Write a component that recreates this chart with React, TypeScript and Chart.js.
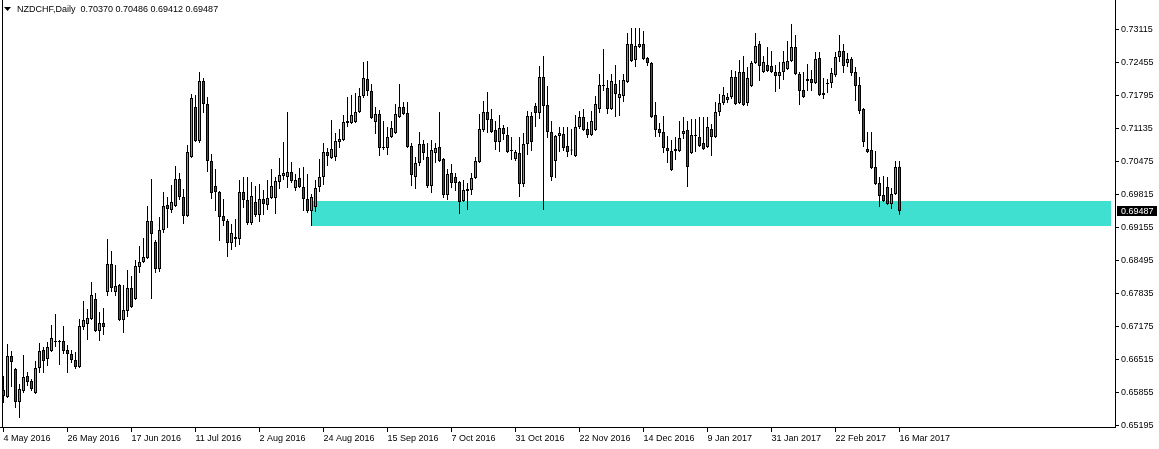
import React, { useEffect, useRef } from 'react';
import { Chart, registerables } from 'chart.js';

Chart.register(...registerables);

const symbolTitle = 'NZDCHF,Daily';

const dateTickLabels = [
  '4 May 2016', '26 May 2016', '17 Jun 2016', '11 Jul 2016', '2 Aug 2016',
  '24 Aug 2016', '15 Sep 2016', '7 Oct 2016', '31 Oct 2016', '22 Nov 2016',
  '14 Dec 2016', '9 Jan 2017', '31 Jan 2017', '22 Feb 2017', '16 Mar 2017',
];
const barsPerDateTick = 16;

const priceTickValues = [
  0.65195, 0.65855, 0.66515, 0.67175, 0.67835, 0.68495, 0.69155,
  0.69815, 0.70475, 0.71135, 0.71795, 0.72455, 0.73115,
];

const opens = [
  0.65905, 0.65765, 0.66585, 0.66325, 0.65665, 0.65885, 0.66185, 0.66085, 0.65845, 0.66345,
  0.66705, 0.66525, 0.66685, 0.66865, 0.66885, 0.66885, 0.66705, 0.66625, 0.66505, 0.66365,
  0.67165, 0.67225, 0.67325, 0.67725, 0.67085, 0.67245, 0.67865, 0.68425, 0.67865, 0.68005,
  0.67305, 0.67485, 0.67945, 0.67725, 0.68365, 0.68465, 0.68545, 0.69285, 0.68865, 0.68325,
  0.69105, 0.69605, 0.69505, 0.69585, 0.70125, 0.69765, 0.69385, 0.70565, 0.71565, 0.70885,
  0.72085, 0.71625, 0.70485, 0.69985, 0.69865, 0.69385, 0.69285, 0.68845, 0.68965, 0.68925,
  0.69865, 0.69705, 0.69245, 0.69665, 0.69405, 0.69725, 0.69605, 0.69745, 0.69745, 0.70065,
  0.70185, 0.70165, 0.70265, 0.69945, 0.70145, 0.69965, 0.69725, 0.69485, 0.69565, 0.69965,
  0.70165, 0.70665, 0.70545, 0.70565, 0.70865, 0.70905, 0.71245, 0.71245, 0.71265, 0.71465,
  0.71785, 0.72125, 0.71885, 0.71265, 0.71425, 0.70765, 0.70745, 0.70965, 0.71045, 0.71365,
  0.71565, 0.71445, 0.70785, 0.70165, 0.70445, 0.70825, 0.70565, 0.69985, 0.70645, 0.70765,
  0.70525, 0.69805, 0.70245, 0.70165, 0.70065, 0.69685, 0.69885, 0.69905, 0.70145, 0.70465,
  0.71105, 0.71465, 0.71325, 0.71105, 0.70865, 0.71145, 0.71005, 0.70705, 0.70525, 0.70645,
  0.70025, 0.70825, 0.71385, 0.71585, 0.71445, 0.72165, 0.71605, 0.71065, 0.70485, 0.70985,
  0.71025, 0.70785, 0.70705, 0.70585, 0.71165, 0.71365, 0.71125, 0.71005, 0.71105, 0.71525,
  0.71985, 0.71945, 0.71525, 0.72025, 0.71745, 0.71785, 0.72065, 0.72825, 0.72505, 0.72765,
  0.72825, 0.72545, 0.72445, 0.71405, 0.71125, 0.71065, 0.70745, 0.70685, 0.70685, 0.70685,
  0.71025, 0.71105, 0.70645, 0.70985, 0.70965, 0.70845, 0.70765, 0.71125, 0.70965, 0.71465,
  0.71645, 0.71705, 0.71765, 0.72165, 0.71645, 0.72265, 0.71645, 0.71985, 0.72445, 0.72825,
  0.72265, 0.72405, 0.72385, 0.72265, 0.72185, 0.72265, 0.72325, 0.72485, 0.72765, 0.72225,
  0.71905, 0.72085, 0.72125, 0.72045, 0.72545, 0.71845, 0.72025, 0.72045, 0.72205, 0.72565,
  0.72685, 0.72445, 0.72525, 0.72265, 0.72005, 0.71525, 0.70725, 0.70705, 0.70365, 0.70045,
  0.69805, 0.69965, 0.69625, 0.69825, 0.70370,
];

const highs = [
  0.66185, 0.66825, 0.66685, 0.66345, 0.66025, 0.66605, 0.66265, 0.66125, 0.66485, 0.66845,
  0.66765, 0.66865, 0.67205, 0.67425, 0.66905, 0.67185, 0.66805, 0.66705, 0.66665, 0.67325,
  0.67685, 0.67525, 0.68065, 0.67845, 0.67465, 0.67545, 0.68925, 0.68685, 0.68405, 0.68025,
  0.68005, 0.68305, 0.68185, 0.68505, 0.68785, 0.68945, 0.69585, 0.70125, 0.68905, 0.69365,
  0.69865, 0.69765, 0.70005, 0.70385, 0.70245, 0.69925, 0.70805, 0.71825, 0.71805, 0.72265,
  0.72145, 0.71765, 0.70625, 0.70325, 0.69885, 0.69725, 0.69325, 0.69225, 0.69325, 0.70105,
  0.70165, 0.70165, 0.70065, 0.69985, 0.70025, 0.69905, 0.70105, 0.70325, 0.70165, 0.70545,
  0.70865, 0.71465, 0.70465, 0.70225, 0.70345, 0.70365, 0.70225, 0.69825, 0.70105, 0.70525,
  0.70845, 0.70745, 0.71305, 0.71045, 0.71125, 0.71405, 0.71765, 0.71805, 0.71845, 0.71945,
  0.72465, 0.72485, 0.72025, 0.71565, 0.71505, 0.71285, 0.71165, 0.71285, 0.71625, 0.72025,
  0.71665, 0.71665, 0.70845, 0.70565, 0.71065, 0.70905, 0.70845, 0.70905, 0.70845, 0.71465,
  0.70545, 0.70325, 0.70425, 0.70245, 0.70085, 0.70105, 0.70045, 0.70245, 0.70565, 0.71425,
  0.71685, 0.71865, 0.71525, 0.71285, 0.71405, 0.71205, 0.71165, 0.70965, 0.70705, 0.70965,
  0.71045, 0.71485, 0.71465, 0.71645, 0.72385, 0.72585, 0.71985, 0.71285, 0.71005, 0.71165,
  0.71165, 0.71165, 0.71125, 0.71405, 0.71485, 0.71525, 0.71265, 0.71485, 0.71785, 0.72225,
  0.72725, 0.72105, 0.72225, 0.72405, 0.72105, 0.72225, 0.73045, 0.73145, 0.73145, 0.73145,
  0.73085, 0.72565, 0.72465, 0.71665, 0.71245, 0.71385, 0.70985, 0.70905, 0.70965, 0.71285,
  0.71365, 0.71285, 0.71325, 0.71325, 0.71365, 0.71365, 0.71365, 0.71225, 0.71665, 0.71825,
  0.71965, 0.71845, 0.72305, 0.72285, 0.72505, 0.72585, 0.72365, 0.72485, 0.73045, 0.72885,
  0.72585, 0.72765, 0.72685, 0.72405, 0.72465, 0.72685, 0.72885, 0.73225, 0.73005, 0.72265,
  0.72265, 0.72425, 0.72305, 0.72665, 0.72665, 0.72145, 0.72125, 0.72345, 0.72665, 0.73005,
  0.72825, 0.72645, 0.72565, 0.72365, 0.72165, 0.71545, 0.71065, 0.71065, 0.70685, 0.70165,
  0.70185, 0.70165, 0.69945, 0.70485, 0.70486,
];

const lows = [
  0.65645, 0.65745, 0.65965, 0.65545, 0.65345, 0.65845, 0.65985, 0.65885, 0.65825, 0.66245,
  0.66245, 0.66385, 0.66665, 0.66765, 0.66405, 0.66625, 0.66245, 0.66445, 0.66325, 0.66345,
  0.67105, 0.66905, 0.67305, 0.67065, 0.66885, 0.67005, 0.67785, 0.67865, 0.67785, 0.67285,
  0.67045, 0.67365, 0.67545, 0.67705, 0.68245, 0.68445, 0.68525, 0.67725, 0.68245, 0.68265,
  0.69045, 0.69145, 0.69445, 0.69565, 0.69705, 0.69225, 0.69365, 0.70545, 0.70865, 0.70845,
  0.71445, 0.70265, 0.69725, 0.69485, 0.68885, 0.69185, 0.68565, 0.68705, 0.68765, 0.68805,
  0.69545, 0.69205, 0.69205, 0.69365, 0.69265, 0.69405, 0.69505, 0.69725, 0.69425, 0.69925,
  0.70105, 0.69945, 0.70045, 0.69885, 0.69945, 0.69485, 0.69445, 0.69185, 0.69465, 0.69865,
  0.70005, 0.70385, 0.70525, 0.70485, 0.70745, 0.70885, 0.71165, 0.71225, 0.71245, 0.71445,
  0.71745, 0.71785, 0.71325, 0.71025, 0.70585, 0.70705, 0.70605, 0.70945, 0.71025, 0.71345,
  0.71405, 0.70745, 0.69985, 0.69925, 0.70385, 0.70505, 0.69945, 0.69845, 0.70445, 0.70465,
  0.69745, 0.69705, 0.69945, 0.69885, 0.69425, 0.69665, 0.69505, 0.69805, 0.70125, 0.70445,
  0.71065, 0.71045, 0.71045, 0.70705, 0.70665, 0.70905, 0.70645, 0.70505, 0.70485, 0.69765,
  0.69965, 0.70605, 0.70685, 0.71165, 0.71325, 0.69505, 0.70945, 0.70085, 0.70145, 0.70665,
  0.70685, 0.70565, 0.70605, 0.70565, 0.71125, 0.71085, 0.70945, 0.70985, 0.71085, 0.71445,
  0.71885, 0.71425, 0.71505, 0.71365, 0.71385, 0.71665, 0.72045, 0.72465, 0.72365, 0.72745,
  0.72505, 0.72385, 0.71345, 0.70965, 0.70965, 0.70645, 0.70445, 0.70285, 0.70505, 0.70665,
  0.70925, 0.69965, 0.70625, 0.70665, 0.70765, 0.70705, 0.70745, 0.70585, 0.70945, 0.71385,
  0.71605, 0.71645, 0.71725, 0.71605, 0.71625, 0.71585, 0.71585, 0.71965, 0.72425, 0.72085,
  0.72245, 0.72265, 0.72245, 0.71865, 0.71925, 0.72105, 0.72305, 0.72465, 0.72205, 0.71605,
  0.71745, 0.71885, 0.71885, 0.72025, 0.71785, 0.71725, 0.71845, 0.71945, 0.72165, 0.72465,
  0.72245, 0.72365, 0.72185, 0.71685, 0.71425, 0.70765, 0.70645, 0.70325, 0.70005, 0.69565,
  0.69665, 0.69605, 0.69525, 0.69805, 0.69412,
];

const closes = [
  0.65785, 0.66585, 0.66465, 0.65665, 0.65925, 0.66165, 0.66065, 0.65925, 0.66345, 0.66685,
  0.66485, 0.66765, 0.66945, 0.66885, 0.66865, 0.66685, 0.66625, 0.66505, 0.66365, 0.67185,
  0.67305, 0.67345, 0.67805, 0.67085, 0.67245, 0.67165, 0.68425, 0.67945, 0.67985, 0.67305,
  0.67505, 0.67945, 0.67565, 0.68385, 0.68465, 0.68565, 0.69285, 0.69025, 0.68325, 0.69105,
  0.69585, 0.69525, 0.69665, 0.70125, 0.69765, 0.69385, 0.70665, 0.71745, 0.70885, 0.72085,
  0.71625, 0.70485, 0.69845, 0.69865, 0.69365, 0.69285, 0.68845, 0.69045, 0.68925, 0.69865,
  0.69705, 0.69245, 0.69785, 0.69405, 0.69725, 0.69625, 0.69745, 0.69985, 0.70085, 0.70205,
  0.70245, 0.70265, 0.70085, 0.70105, 0.69965, 0.69725, 0.69485, 0.69765, 0.69945, 0.70165,
  0.70665, 0.70585, 0.70725, 0.70885, 0.70925, 0.71265, 0.71285, 0.71405, 0.71465, 0.71785,
  0.72145, 0.71885, 0.71345, 0.71425, 0.70745, 0.70745, 0.70965, 0.71145, 0.71425, 0.71565,
  0.71425, 0.70765, 0.70205, 0.70445, 0.70825, 0.70645, 0.69985, 0.70705, 0.70745, 0.70485,
  0.69805, 0.70225, 0.70045, 0.70045, 0.69665, 0.69905, 0.69925, 0.70145, 0.70485, 0.71125,
  0.71465, 0.71305, 0.71065, 0.70865, 0.71145, 0.71025, 0.70665, 0.70685, 0.70665, 0.70025,
  0.70825, 0.71385, 0.70865, 0.71445, 0.72165, 0.71585, 0.71065, 0.70165, 0.70985, 0.71045,
  0.70745, 0.70665, 0.70695, 0.71165, 0.71365, 0.71105, 0.71005, 0.71285, 0.71625, 0.72005,
  0.71995, 0.71525, 0.72085, 0.71825, 0.71825, 0.72105, 0.72825, 0.72485, 0.72785, 0.72825,
  0.72525, 0.72445, 0.71365, 0.71105, 0.71045, 0.70745, 0.70685, 0.70305, 0.70725, 0.70945,
  0.71085, 0.70365, 0.71005, 0.71005, 0.70785, 0.70725, 0.71165, 0.70965, 0.71465, 0.71645,
  0.71805, 0.71765, 0.72165, 0.71625, 0.72265, 0.71605, 0.72145, 0.72445, 0.72785, 0.72385,
  0.72465, 0.72285, 0.72265, 0.72185, 0.72265, 0.72465, 0.72485, 0.72765, 0.72225, 0.71885,
  0.71765, 0.72125, 0.72045, 0.72525, 0.71805, 0.71805, 0.72045, 0.72245, 0.72565, 0.72685,
  0.72385, 0.72525, 0.72245, 0.71985, 0.71485, 0.70865, 0.70665, 0.70345, 0.70025, 0.69785,
  0.69685, 0.69625, 0.69825, 0.70365, 0.69487,
];

// Support zone (in bar index / price units)
const zoneStartBar = 77.1;
const zoneEndBar = 276.9;
const zoneTopPrice = 0.69685;
const zoneBottomPrice = 0.69195;

const priceMin = 0.65165;
const priceMax = 0.73705;
const barAxisMin = -0.875;
const barAxisMax = 277.875;

const BULL = '#22d622';
const BEAR = '#d41414';
const ZONE = '#40e0d0';
const FONT = '"Liberation Sans", Arial, sans-serif';

function zeroPadding(axis: any) {
  axis.paddingTop = 0;
  axis.paddingBottom = 0;
  axis.paddingLeft = 0;
  axis.paddingRight = 0;
}

export default function App() {
  const canvasRef = useRef<HTMLCanvasElement | null>(null);

  useEffect(() => {
    document.body.style.margin = '0';
    document.body.style.background = '#ffffff';
    const canvas = canvasRef.current;
    if (!canvas) return;

    const n = opens.length;
    const wickData = opens.map((_, i) => ({ x: i, y: [lows[i], highs[i]] }));
    const bodyData = opens.map((o, i) => ({ x: i, y: [o, closes[i]] }));
    const bodyColors = opens.map((o, i) => (closes[i] >= o ? BULL : BEAR));

    const last = n - 1;
    const titleText =
      symbolTitle + '  ' +
      [opens[last], highs[last], lows[last], closes[last]].map((v) => v.toFixed(5)).join(' ');

    const decorPlugin = {
      id: 'mt4Decor',
      beforeDatasetsDraw(chart: any) {
        const { ctx, scales, chartArea } = chart;
        const xs = scales.x;
        const ys = scales.y;
        ctx.save();
        ctx.fillStyle = '#000';
        ctx.fillRect(2, chartArea.top, 1, chartArea.bottom - chartArea.top);
        const x0 = xs.getPixelForValue(zoneStartBar);
        const x1 = xs.getPixelForValue(zoneEndBar);
        const y0 = ys.getPixelForValue(zoneTopPrice);
        const y1 = ys.getPixelForValue(zoneBottomPrice);
        ctx.fillStyle = ZONE;
        ctx.fillRect(Math.round(x0), Math.round(y0), Math.round(x1 - x0), Math.round(y1 - y0));
        ctx.restore();
      },
      afterDraw(chart: any) {
        const { ctx, scales, chartArea } = chart;
        const ys = scales.y;
        ctx.save();
        ctx.fillStyle = '#000';
        ctx.beginPath();
        ctx.moveTo(4, 7);
        ctx.lineTo(11, 7);
        ctx.lineTo(7.5, 11);
        ctx.closePath();
        ctx.fill();
        ctx.font = '9px ' + FONT;
        ctx.textBaseline = 'middle';
        ctx.textAlign = 'left';
        ctx.fillText(titleText, 17, 9.5);
        const py = Math.round(ys.getPixelForValue(closes[last]));
        ctx.fillStyle = '#000';
        ctx.fillRect(chartArea.right + 2, py - 5, 40, 10);
        ctx.fillStyle = '#fff';
        ctx.fillText(closes[last].toFixed(5), chartArea.right + 6, py + 0.5);
        ctx.restore();
      },
    };

    const chart = new Chart(canvas, {
      type: 'bar',
      data: {
        datasets: [
          {
            label: 'body',
            data: bodyData as any,
            backgroundColor: bodyColors,
            borderColor: '#000',
            borderWidth: 1,
            borderSkipped: false,
            barThickness: 3,
            minBarLength: 1,
            grouped: false,
            inflateAmount: 0,
            order: 0,
          } as any,
          {
            label: 'wick',
            data: wickData as any,
            backgroundColor: '#000',
            borderWidth: 0,
            barThickness: 1,
            grouped: false,
            inflateAmount: 0,
            order: 1,
          } as any,
        ],
      },
      options: {
        animation: false,
        responsive: false,
        maintainAspectRatio: false,
        events: [],
        layout: { padding: 0 },
        plugins: {
          legend: { display: false },
          tooltip: { enabled: false },
          title: { display: false },
        },
        scales: {
          x: {
            type: 'linear',
            position: 'bottom',
            min: barAxisMin,
            max: barAxisMax,
            offset: false,
            bounds: 'data',
            grid: {
              display: true,
              drawOnChartArea: false,
              drawTicks: true,
              tickLength: 5,
              color: '#000',
              tickColor: '#000',
              offset: false,
            },
            border: { display: true, color: '#000', width: 1 },
            ticks: {
              autoSkip: false,
              maxRotation: 0,
              minRotation: 0,
              align: 'start',
              padding: 1,
              color: '#000',
              font: { family: FONT, size: 9 },
              callback: (v: any) => dateTickLabels[Math.round(Number(v) / barsPerDateTick)] ?? '',
            },
            afterBuildTicks: (axis: any) => {
              axis.ticks = dateTickLabels.map((_, k) => ({ value: k * barsPerDateTick }));
            },
            afterFit: (axis: any) => {
              axis.height = 22;
              zeroPadding(axis);
            },
          } as any,
          y: {
            type: 'linear',
            position: 'right',
            min: priceMin,
            max: priceMax,
            beginAtZero: false,
            bounds: 'data',
            grid: {
              display: true,
              drawOnChartArea: false,
              drawTicks: true,
              tickLength: 4,
              color: '#000',
              tickColor: '#000',
            },
            border: { display: true, color: '#000', width: 1 },
            ticks: {
              autoSkip: false,
              padding: 2,
              color: '#000',
              font: { family: FONT, size: 9 },
              callback: (v: any) => Number(v).toFixed(5),
            },
            afterBuildTicks: (axis: any) => {
              axis.ticks = priceTickValues.map((v) => ({ value: v }));
            },
            afterFit: (axis: any) => {
              axis.width = 44;
              zeroPadding(axis);
            },
          } as any,
        },
      },
      plugins: [decorPlugin],
    });

    return () => {
      chart.destroy();
    };
  }, []);

  return (
    <div style={{ width: 1159, height: 449, background: '#fff' }}>
      <canvas ref={canvasRef} width={1159} height={449} style={{ display: 'block' }} />
    </div>
  );
}
